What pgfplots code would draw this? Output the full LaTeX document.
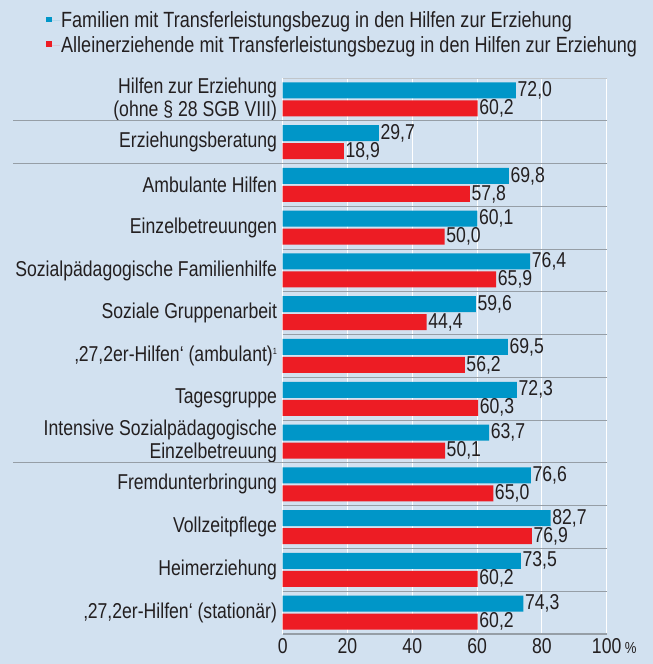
\documentclass[border=0pt]{standalone}
\usepackage{fontspec}
\setmainfont{Liberation Sans}[FakeStretch=0.82]
\usepackage{pgfplots}
\pgfplotsset{compat=1.18}
\definecolor{bgc}{RGB}{210,225,240}
\definecolor{barblue}{RGB}{0,150,200}
\definecolor{barred}{RGB}{237,28,36}
\definecolor{txt}{RGB}{35,31,32}
\definecolor{sep}{RGB}{150,158,166}
\newcommand{\lf}{\fontsize{21.5bp}{23bp}\selectfont}
\newcommand{\gf}{\fontsize{22bp}{24bp}\selectfont}
\begin{document}
\begin{tikzpicture}
\fill[bgc] (-282.7bp,-30bp) rectangle (370.3bp,634bp);
\useasboundingbox (-282.7bp,-30bp) rectangle (370.3bp,634bp);
\begin{axis}[
  at={(0,0)}, anchor=south west,
  scale only axis, width=324bp, height=556bp,
  xbar, bar width=16bp,
  xmin=0, xmax=100, ymin=-0.5, ymax=12.5,
  xtick={0,20,40,60,80,100},
  xticklabels={0,20,40,60,80,100\rlap{\,\fontsize{16bp}{16bp}\selectfont\%}},
  ytick={0,...,12},
  yticklabels={{‚27,2er-Hilfen‘ (stationär)},Heimerziehung,Vollzeitpflege,Fremdunterbringung,{Intensive Sozialpädagogische\\Einzelbetreuung},Tagesgruppe,{‚27,2er-Hilfen‘ (ambulant)\raisebox{0.6ex}{\fontsize{9bp}{9bp}\selectfont 1}},Soziale Gruppenarbeit,Sozialpädagogische Familienhilfe,Einzelbetreuungen,Ambulante Hilfen,Erziehungsberatung,{Hilfen zur Erziehung\\(ohne § 28 SGB VIII)}},
  minor ytick={0.5,1.5,...,11.5},
  yminorgrids=true, xmajorgrids=true, ymajorgrids=false,
  minor grid style={sep, line width=1.1bp},
  major grid style={white, line width=1bp},
  major tick length=0pt, minor tick length=0pt,
  axis line style={draw=none},
  /pgf/number format/assume math mode=true,
  yticklabel style={align=right, font=\lf, text=txt, inner xsep=5.5bp},
  xticklabel style={font=\lf, text=txt, yshift=-1bp},
  nodes near coords={\pgfmathprintnumber[fixed,fixed zerofill,precision=1,use comma]{\pgfplotspointmeta}},
  nodes near coords style={font=\lf, text=txt, anchor=west, inner xsep=1.5bp},
  clip=false,
  legend style={at={(axis description cs:-0.7306,1.121)}, anchor=north west, draw=none, fill=none, font=\gf, text=txt, row sep=5bp, inner sep=0pt, nodes={inner sep=1bp}},
  legend cell align=left,
  sqleg/.style={legend image code/.code={\path (0bp,0bp) -- (14bp,0bp); \fill (0bp,-1.5bp) rectangle (5.5bp,4bp);}},
]
\addplot+[bar shift=9bp, fill=barblue, draw=none, sqleg] coordinates {
(72.0,12) (29.7,11) (69.8,10) (60.1,9) (76.4,8) (59.6,7) (69.5,6) (72.3,5) (63.7,4) (76.6,3) (82.7,2) (73.5,1) (74.3,0)};
\addlegendentry{Familien mit Transferleistungsbezug in den Hilfen zur Erziehung}
\addplot+[bar shift=-9bp, fill=barred, draw=none, sqleg] coordinates {
(60.2,12) (18.9,11) (57.8,10) (50.0,9) (65.9,8) (44.4,7) (56.2,6) (60.3,5) (50.1,4) (65.0,3) (76.9,2) (60.2,1) (60.2,0)};
\addlegendentry{Alleinerziehende mit Transferleistungsbezug in den Hilfen zur Erziehung}
\draw[sep, line width=1.1bp] (axis cs:-83.2,11.5) -- (axis cs:100,11.5);
\draw[sep, line width=1.1bp] (axis cs:-83.2,10.5) -- (axis cs:100,10.5);
\draw[sep, line width=1.1bp] (axis cs:-83.2,3.5) -- (axis cs:100,3.5);
\draw[sep, line width=1.1bp] (rel axis cs:0,0) -- (rel axis cs:1,0);
\draw[sep!60, line width=0.6bp] (rel axis cs:0,1) -- (rel axis cs:1,1);
\end{axis}
\end{tikzpicture}
\end{document}
